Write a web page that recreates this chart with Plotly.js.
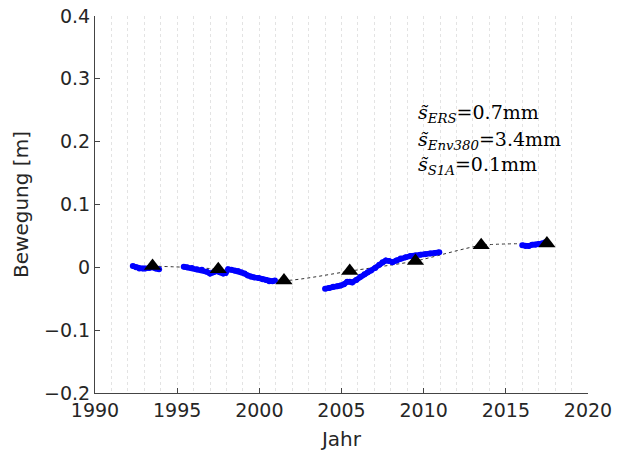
<!DOCTYPE html>
<html>
<head>
<meta charset="utf-8">
<script src="https://cdn.plot.ly/plotly-3.0.1.min.js"></script>
<style>html,body{margin:0;padding:0;background:#fff}#plot{width:624px;height:455px}</style>
</head>
<body>
<div id="plot"></div>
<script>
// ERS time series
var ersYears = [1992.3,1992.5,1992.7,1992.9,1993.05,1993.3,1993.5,1993.7,1993.9,
  null,
  1995.4,1995.6,1995.9,1996.2,1996.5,1996.8,1997.0,1997.2,1997.4,1997.6,1997.8,1997.95,1998.1,1998.3,1998.5,1998.7,1998.9,1999.1,1999.3,1999.5,1999.7,1999.95,2000.2,2000.4,2000.6,2000.8,2000.95];
var ersValues = [0.002,0.000,-0.002,-0.002,-0.002,-0.001,0.000,-0.002,-0.003,
  null,
  0.001,0.000,-0.001,-0.003,-0.004,-0.007,-0.010,-0.008,-0.006,-0.008,-0.010,-0.009,-0.003,-0.004,-0.005,-0.006,-0.008,-0.010,-0.013,-0.015,-0.016,-0.017,-0.019,-0.020,-0.022,-0.022,-0.021];
// Envisat time series
var envYears = [2004.0,2004.25,2004.5,2004.75,2004.95,2005.15,2005.35,2005.5,2005.65,2005.9,2006.15,2006.4,2006.6,2006.8,2007.05,2007.3,2007.5,2007.7,2007.9,2008.1,2008.35,2008.6,2008.9,2009.2,2009.5,2009.8,2010.1,2010.4,2010.7,2010.95];
var envValues = [-0.034,-0.033,-0.031,-0.030,-0.029,-0.027,-0.023,-0.023,-0.024,-0.020,-0.015,-0.011,-0.008,-0.005,-0.001,0.004,0.008,0.011,0.010,0.008,0.011,0.014,0.016,0.018,0.019,0.020,0.021,0.022,0.023,0.024];
// Sentinel-1A time series
var s1aYears = [2016.0,2016.2,2016.4,2016.6,2016.8,2017.0,2017.2,2017.4];
var s1aValues = [0.035,0.034,0.034,0.036,0.036,0.037,0.038,0.040];
// Reference points (triangles)
var refYears = [1993.5,1997.5,2001.5,2005.5,2009.5,2013.5,2017.5];
var refValues = [0.002,-0.003,-0.021,-0.006,0.010,0.035,0.038];
// Annotation text
var noteSubs = ['ERS','Env380','S1A'];
var noteVals = ['0.7mm','3.4mm','0.1mm'];

var blue = '#0000ff';
function series(x, y) {
  return {x: x, y: y, type: 'scatter', mode: 'lines+markers',
    line: {color: blue, width: 5.5}, marker: {color: blue, size: 6},
    connectgaps: false, showlegend: false, hoverinfo: 'skip'};
}
var traces = [
  {x: refYears, y: refValues, type: 'scatter', mode: 'lines',
   line: {color: '#333', width: 1, dash: '3px,3px', shape: 'spline', smoothing: 0.6},
   showlegend: false},
  series(ersYears, ersValues),
  series(envYears, envValues),
  series(s1aYears, s1aValues),
  {x: refYears, y: refValues, type: 'scatter', mode: 'markers',
   marker: {symbol: 'triangle-up', color: '#000', size: 15, line: {width: 0}},
   showlegend: false}
];

var noteY = [0.742, 0.670, 0.604];
var annotations = noteSubs.map(function(s, i){
  return {
    xref: 'paper', yref: 'paper', x: 0.652, y: noteY[i], xanchor: 'left', yanchor: 'middle',
    text: '<i>s\u0303</i><sub><i>' + s + '</i></sub>=' + noteVals[i],
    showarrow: false, align: 'left',
    font: {family: 'DejaVu Serif, Liberation Serif, serif', size: 19, color: '#000'}
  };
});

var fontFam = 'DejaVu Sans, sans-serif';
var layout = {
  width: 624, height: 455,
  margin: {l: 95, r: 36, t: 16, b: 62},
  paper_bgcolor: '#fff', plot_bgcolor: '#fff',
  font: {family: fontFam, size: 19, color: '#262626'},
  xaxis: {
    range: [1990, 2020], tickvals: [1990,1995,2000,2005,2010,2015,2020],
    ticks: 'inside', ticklen: 5, tickcolor: '#444', showline: true, linecolor: '#444', linewidth: 1,
    showgrid: true, gridcolor: '#e3e3e3', griddash: 'dot', gridwidth: 1,
    minor: {dtick: 1, tick0: 1990, showgrid: true, gridcolor: '#e3e3e3', griddash: 'dot', gridwidth: 1, ticks: ''},
    zeroline: false, fixedrange: true,
    title: {text: 'Jahr', font: {size: 20}, standoff: 12},
    tickfont: {size: 19}
  },
  yaxis: {
    range: [-0.2, 0.4], dtick: 0.1, tickformat: '.1~f',
    ticks: 'inside', ticklen: 5, tickcolor: '#444', showline: true, linecolor: '#444', linewidth: 1,
    showgrid: false, zeroline: false, fixedrange: true,
    title: {text: 'Bewegung [m]', font: {size: 20}, standoff: 10},
    tickfont: {size: 19}
  },
  shapes: [{
    type: 'rect', xref: 'paper', yref: 'paper', x0: 0.649, x1: 0.968, y0: 0.555, y1: 0.785,
    fillcolor: '#fff', line: {width: 0}, layer: 'below'
  }],
  annotations: annotations
};
Plotly.newPlot('plot', traces, layout, {staticPlot: true, displayModeBar: false});
</script>
</body>
</html>
